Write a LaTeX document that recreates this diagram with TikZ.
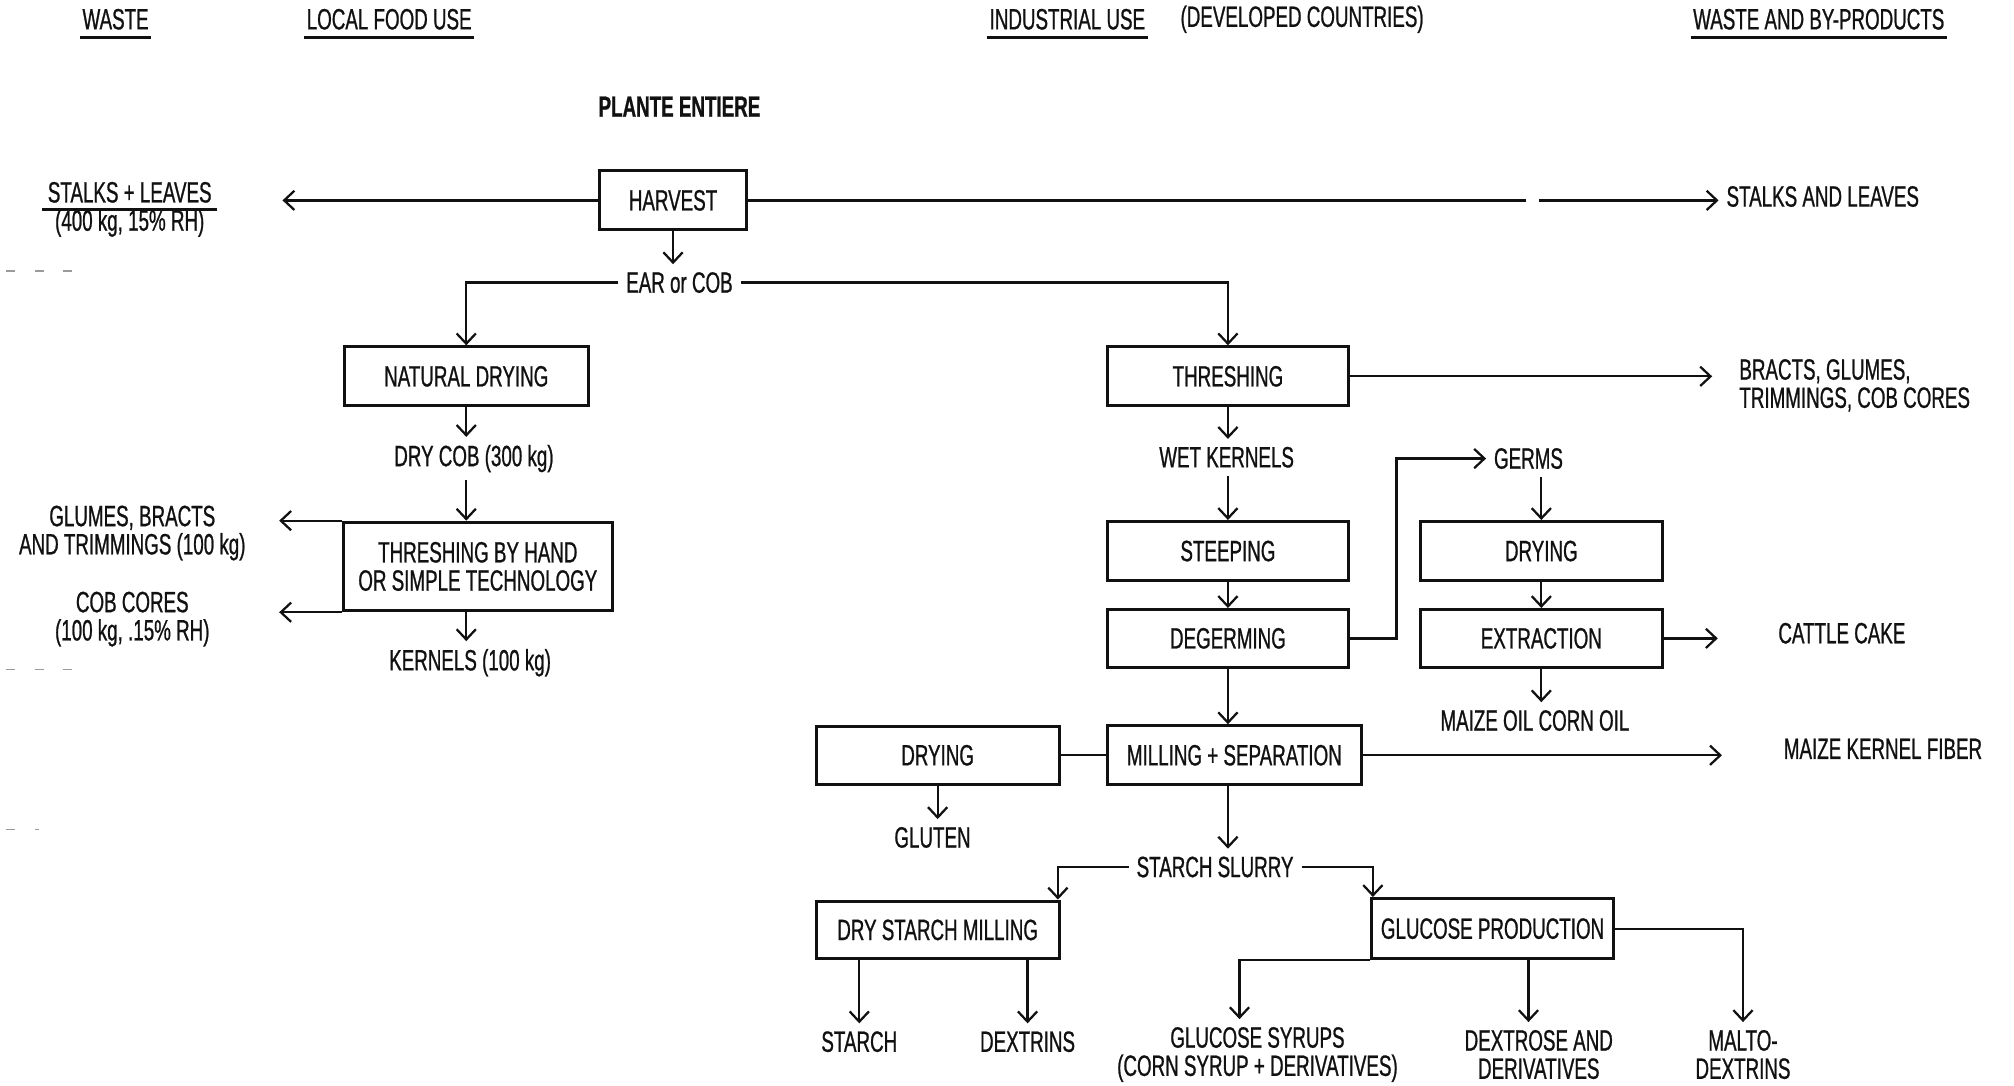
\documentclass[tikz,border=0pt]{standalone}
\usepackage{fontspec}
\setmainfont{Liberation Sans}[FakeStretch=0.64,FakeBold=0.8]
\usetikzlibrary{arrows.meta,positioning,calc}
\definecolor{ink}{HTML}{111111}
\definecolor{scan}{HTML}{9A9A9A}
\tikzset{
  >={Straight Barb[length=1.6mm,width=3mm]},
  every node/.style={font=\fontsize{13}{12.5}\selectfont,text=ink},
  box/.style={draw=ink,line width=1.3pt,minimum width=37.6mm,minimum height=9.2mm,inner sep=0pt,align=center},
  txt/.style={align=center},
  headtxt/.style={inner sep=1pt},
  arrow/.style={->,line width=1pt,draw=ink},
  link/.style={line width=1pt,draw=ink},
  underl/.style={line width=1.2pt,draw=ink},
  scanmark/.style={draw=scan,line width=0.6pt,dash pattern=on 1.4mm off 3mm},
}

\begin{document}
\begin{tikzpicture}[x=0.2mm,y=-0.2mm]
  \useasboundingbox (0,0) rectangle (1568,845);

  % column heads
  \node[headtxt] (hwaste) at (90,15) {WASTE};
  \node[headtxt] (hlocal) at (303,15) {LOCAL FOOD USE};
  \node[headtxt] (hind) at (831,15) {INDUSTRIAL USE};
  \node[headtxt,anchor=west] (hdev) at (917,15) {(DEVELOPED COUNTRIES)};
  \node[headtxt] (hbyp) at (1416,15) {WASTE AND BY-PRODUCTS};
  \foreach \h in {hwaste,hlocal,hind,hbyp}
    \draw[underl] ([yshift=-0.8mm]\h.south west) -- ([yshift=-0.8mm]\h.south east);
  \node[txt,font=\fontsize{13}{12.5}\selectfont\bfseries] (plante) at (529,83) {PLANTE ENTIERE};

  % harvest
  \node[box,minimum width=22.8mm] (harvest) at (524,156) {HARVEST};
  \node[txt] (stalks) at (101,163) {STALKS + LEAVES\\(400 kg, 15\% RH)};
  \draw[underl,line width=1pt] ([xshift=1pt]stalks.west) -- ([xshift=-1pt]stalks.east);
  \node[txt,anchor=west] (stalksR) at (1338,153) {STALKS AND LEAVES};
  \coordinate (cut) at (1193,156);
  \draw[arrow,shorten >=9.8mm] (harvest.west) -- (harvest.west -| stalks.east);
  \draw[link] (harvest.east) -- ([xshift=-1mm]cut);
  \draw[arrow] ([xshift=1mm]cut) -- (cut -| stalksR.west);
  \node[txt] (ear) at (529,220) {EAR or COB};
  \draw[arrow] (harvest.south) -- (harvest.south |- ear.north);

  % local food use
  \node[box,minimum width=38mm] (natdry) at (363,293) {NATURAL DRYING};
  \draw[arrow] (ear.west) -| (natdry.north);
  \node[txt] (drycob) at (369,357) {DRY COB (300 kg)};
  \draw[arrow] (natdry.south) -- (natdry.south |- drycob.north);
  \node[box,minimum width=41.8mm,minimum height=13.8mm] (handthr) at (372,441) {THRESHING BY HAND\\OR SIMPLE TECHNOLOGY};
  \draw[arrow] (natdry.south |- drycob.south) -- (natdry.south |- handthr.north);
  \node[txt] (glumes) at (103,415) {GLUMES, BRACTS\\AND TRIMMINGS (100 kg)};
  \node[txt] (cobc) at (103,482) {COB CORES\\(100 kg, .15\% RH)};
  \draw[arrow] (handthr.north west) -- ++(-49,0);
  \draw[arrow] (handthr.south west) -- ++(-49,0);
  \node[txt] (kern) at (366,516) {KERNELS (100 kg)};
  \draw[arrow] (natdry.south |- handthr.south) -- (natdry.south |- kern.north);

  % industrial use
  \node[box] (thresh) at (956,293) {THRESHING};
  \draw[arrow] (ear.east) -| (thresh.north);
  \node[txt,anchor=west,align=left] (bracts) at (1348,300) {BRACTS, GLUMES,\\TRIMMINGS, COB CORES};
  \draw[arrow,shorten >=3mm] (thresh.east) -- (thresh.east -| bracts.west);
  \node[txt] (wetk) at (955,356) {WET KERNELS};
  \draw[arrow] (thresh.south) -- (thresh.south |- wetk.north);
  \node[box] (steep) at (956,429) {STEEPING};
  \draw[arrow] (steep.north |- wetk.south) -- (steep.north);
  \node[box,minimum height=9mm] (degerm) at (956,497) {DEGERMING};
  \draw[arrow] (steep) -- (degerm);
  \node[txt] (germs) at (1190,357) {GERMS};
  \draw[arrow] (degerm.east) -- ++(36,0) |- (germs.west);
  \node[box] (dry2) at (1200,429) {DRYING};
  \draw[arrow] (dry2.north |- germs.south) -- (dry2.north);
  \node[box,minimum height=9mm] (extr) at (1200,497) {EXTRACTION};
  \draw[arrow] (dry2) -- (extr);
  \node[txt] (cattle) at (1434,493) {CATTLE CAKE};
  \draw[arrow,shorten >=8.2mm] (extr.east) -- (extr.east -| cattle.west);
  \node[txt] (oil) at (1195,561) {MAIZE OIL CORN OIL};
  \draw[arrow] (extr.south) -- (extr.south |- oil.north);

  \node[box,minimum width=39.6mm] (mill) at (961,588) {MILLING + SEPARATION};
  \draw[arrow] (degerm.south) -- (degerm.south |- mill.north);
  \node[box,minimum width=37.8mm,minimum height=9mm] (dry1) at (730,588) {DRYING};
  \draw[link] (dry1) -- (mill);
  \node[txt] (gluten) at (726,652) {GLUTEN};
  \draw[arrow] (dry1.south) -- (dry1.south |- gluten.north);
  \node[txt] (fiber) at (1466,583) {MAIZE KERNEL FIBER};
  \draw[arrow,shorten >=8.4mm] (mill.east) -- (mill.east -| fiber.west);
  \node[txt] (slurry) at (946,675) {STARCH SLURRY};
  \draw[arrow] (degerm.south |- mill.south) -- (degerm.south |- slurry.north);

  \node[box,minimum width=37.8mm,minimum height=9mm] (dsm) at (730,724) {DRY STARCH MILLING};
  \node[box,minimum height=9.4mm] (gluc) at (1162,723) {GLUCOSE PRODUCTION};
  \draw[arrow] (slurry.west) -| ([xshift=-0.4mm]dsm.north east);
  \draw[arrow] (slurry.east) -| ([xshift=0.4mm]gluc.north west);

  % end products
  \node[txt] (starch) at (669,811) {STARCH};
  \node[txt] (dextr) at (800,811) {DEXTRINS};
  \node[txt] (syrup) at (979,821) {GLUCOSE SYRUPS\\(CORN SYRUP + DERIVATIVES)};
  \node[txt] (dextro) at (1198,821) {DEXTROSE AND\\DERIVATIVES};
  \node[txt] (malto) at (1357,821) {MALTO-\\DEXTRINS};
  \foreach \p in {starch,dextr}
    \draw[arrow] (\p.north |- dsm.south) -- (\p.north);
  \draw[arrow] (gluc.south west) -| ([xshift=-2.8mm]syrup.north);
  \draw[arrow] ([xshift=-1.6mm]dextro.north |- gluc.south) -- ([xshift=-1.6mm]dextro.north);
  \draw[arrow] (gluc.east) -| (malto.north);

  % scan marks in the margin
  \draw[scanmark] (5,211) -- (57,211);
  \draw[scanmark] (5,521) -- (57,521);
  \draw[scanmark] (5,646) -- (30,646);
\end{tikzpicture}
\end{document}
